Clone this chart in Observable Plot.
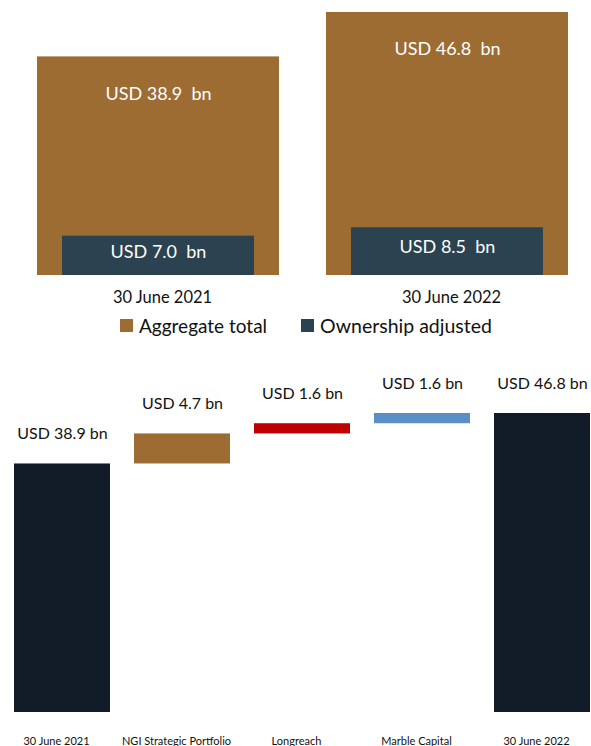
<!DOCTYPE html>
<html>
<head>
<meta charset="utf-8">
<script src="https://cdn.jsdelivr.net/npm/d3@7"></script>
<script src="https://cdn.jsdelivr.net/npm/@observablehq/plot@0.6"></script>
<style>
  body { margin: 0; background: #fff; font-family: Lato, "Open Sans", sans-serif; }
  #wrap { position: relative; width: 591px; height: 746px; overflow: hidden; background: #fff; }
  #top { position: absolute; left: 0; top: 0; }
  #legend { position: absolute; left: 120px; top: 313px; height: 24px; display: flex; align-items: center; font-size: 19px; color: #111; }
  #legend .item { display: flex; align-items: center; }
  #legend .sw { width: 13px; height: 13px; margin-right: 6px; }
  #bottom { position: absolute; left: 0; top: 340px; }
</style>
</head>
<body>
<div id="wrap">
  <div id="top"></div>
  <div id="legend">
    <div class="item"><div class="sw" style="background:#9d6c33"></div><span>Aggregate total</span></div>
    <div class="item" style="margin-left:34px"><div class="sw" style="background:#2b4251"></div><span style="font-size:19.5px">Ownership adjusted</span></div>
  </div>
  <div id="bottom"></div>
</div>
<script>
// Top chart data
const periods = ["30 June 2021", "30 June 2022"];
const aggregateTotal = [38.9, 46.8];
const ownershipAdjusted = [7.0, 8.5];
const aggregateLabels = ["USD 38.9\u00a0 bn", "USD 46.8\u00a0 bn"];
const ownershipLabels = ["USD 7.0\u00a0 bn", "USD 8.5\u00a0 bn"];

// Waterfall data
const steps = ["30 June 2021", "NGI Strategic Portfolio", "Longreach", "Marble Capital", "30 June 2022"];
const stepValues = [38.9, 4.7, 1.6, 1.6, 46.8];
const stepKinds = ["total", "increase", "increase", "increase", "total"];
const stepLabels = ["USD 38.9 bn", "USD 4.7 bn", "USD 1.6 bn", "USD 1.6 bn", "USD 46.8 bn"];

const topData = periods.map((p, i) => ({
  period: p,
  aggregate: aggregateTotal[i],
  ownership: ownershipAdjusted[i],
  aggLabel: aggregateLabels[i],
  ownLabel: ownershipLabels[i]
}));

let run = 0;
const waterfall = steps.map((s, i) => {
  let y1, y2;
  if (stepKinds[i] === "total") { y1 = 0; y2 = stepValues[i]; }
  else { y1 = run; y2 = run + stepValues[i]; }
  run = y2;
  return { step: s, y1, y2, label: stepLabels[i] };
});

const font = "Lato, 'Open Sans', sans-serif";

const topChart = Plot.plot({
  width: 591,
  height: 312,
  marginTop: 12,
  marginBottom: 37,
  marginLeft: 37,
  marginRight: 23,
  style: { fontFamily: font, color: "#111", background: "transparent" },
  x: { domain: periods, paddingInner: 0.163, paddingOuter: 0, axis: null },
  y: { domain: [0, 46.8], axis: null },
  marks: [
    Plot.barY(topData, { x: "period", y: "aggregate", fill: "#9d6c33" }),
    Plot.barY(topData, { x: "period", y: "ownership", fill: "#2b4251", insetLeft: 25, insetRight: 25 }),
    Plot.text(topData, { x: "period", y: "aggregate", text: "aggLabel", dy: 37, fill: "white", fontSize: 18 }),
    Plot.text(topData, { x: "period", y: d => d.ownership / 2, text: "ownLabel", dy: -4, fill: "white", fontSize: 18 }),
    Plot.axisX({ tickSize: 0, tickPadding: 16, fontSize: 16.5, label: null, dx: 4 })
  ]
});
document.getElementById("top").appendChild(topChart);

const bottomChart = Plot.plot({
  width: 591,
  height: 406,
  marginTop: 73,
  marginBottom: 34,
  marginLeft: 12,
  marginRight: 0,
  style: { fontFamily: font, color: "#111", background: "transparent" },
  x: { domain: steps, paddingInner: 0.2, paddingOuter: 0, axis: null },
  y: { domain: [0, 46.8], axis: null },
  color: { domain: steps, range: ["#111c28", "#9d6c33", "#c00000", "#5b8ec4", "#111c28"] },
  marks: [
    Plot.barY(waterfall, { x: "step", y1: "y1", y2: "y2", fill: "step" }),
    Plot.text(waterfall, { x: "step", y: "y2", text: "label", dy: -30, fontSize: 16, fill: "#111" }),
    Plot.axisX({ tickSize: 0, tickPadding: 25, fontSize: 11, label: null, dx: -6 })
  ]
});
document.getElementById("bottom").appendChild(bottomChart);
</script>
</body>
</html>
